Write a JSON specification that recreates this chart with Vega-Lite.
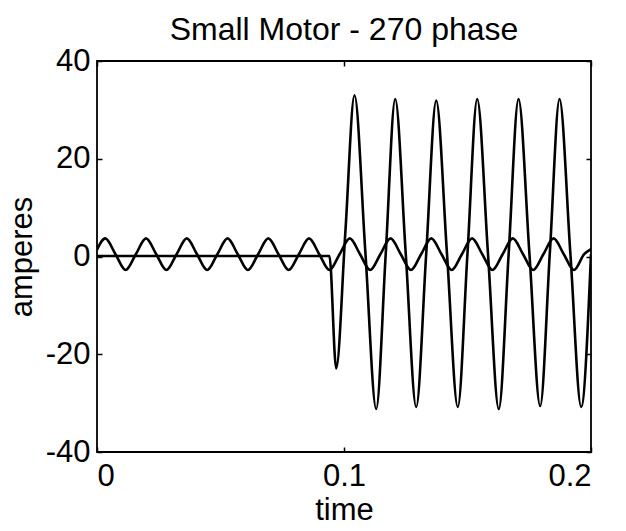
{
  "$schema": "https://vega.github.io/schema/vega-lite/v6.json",
  "width": 494,
  "height": 391,
  "autosize": {"type": "none"},
  "padding": {"left": 97, "top": 61, "right": 35, "bottom": 79},
  "background": "white",
  "config": {
    "font": "Liberation Sans",
    "view": {"stroke": "black", "strokeWidth": 1.8},
    "axis": {"grid": false, "domain": false, "tickColor": "black", "labelColor": "black", "titleColor": "black", "labelFont": "Liberation Sans", "titleFont": "Liberation Sans", "labelFontSize": 31, "titleFontSize": 31, "titleFontWeight": "normal", "tickWidth": 1.5}
  },
  "title": {"text": "Small Motor - 270 phase", "fontSize": 32, "fontWeight": "normal", "font": "Liberation Sans", "color": "black", "offset": -2},
  "data": {"values": [
    {"t": 0, "s": "f", "v": 1.41},
    {"t": 0.00335, "s": "f", "v": 3.7},
    {"t": 0.00748, "s": "f", "v": 0.47},
    {"t": 0.0116, "s": "f", "v": -2.76},
    {"t": 0.01573, "s": "f", "v": 0.47},
    {"t": 0.01985, "s": "f", "v": 3.7},
    {"t": 0.02398, "s": "f", "v": 0.47},
    {"t": 0.0281, "s": "f", "v": -2.76},
    {"t": 0.03223, "s": "f", "v": 0.47},
    {"t": 0.03635, "s": "f", "v": 3.7},
    {"t": 0.04048, "s": "f", "v": 0.47},
    {"t": 0.0446, "s": "f", "v": -2.76},
    {"t": 0.04873, "s": "f", "v": 0.47},
    {"t": 0.05285, "s": "f", "v": 3.7},
    {"t": 0.05698, "s": "f", "v": 0.47},
    {"t": 0.0611, "s": "f", "v": -2.76},
    {"t": 0.06523, "s": "f", "v": 0.47},
    {"t": 0.06935, "s": "f", "v": 3.7},
    {"t": 0.07348, "s": "f", "v": 0.47},
    {"t": 0.0776, "s": "f", "v": -2.76},
    {"t": 0.08173, "s": "f", "v": 0.47},
    {"t": 0.08585, "s": "f", "v": 3.7},
    {"t": 0.08998, "s": "f", "v": 0.47},
    {"t": 0.0941, "s": "f", "v": -2.76},
    {"t": 0.09823, "s": "f", "v": 0.47},
    {"t": 0.10235, "s": "f", "v": 3.7},
    {"t": 0.10648, "s": "f", "v": 0.47},
    {"t": 0.1106, "s": "f", "v": -2.76},
    {"t": 0.11473, "s": "f", "v": 0.47},
    {"t": 0.11885, "s": "f", "v": 3.7},
    {"t": 0.12298, "s": "f", "v": 0.47},
    {"t": 0.1271, "s": "f", "v": -2.76},
    {"t": 0.13123, "s": "f", "v": 0.47},
    {"t": 0.13535, "s": "f", "v": 3.7},
    {"t": 0.13948, "s": "f", "v": 0.47},
    {"t": 0.1436, "s": "f", "v": -2.76},
    {"t": 0.14773, "s": "f", "v": 0.47},
    {"t": 0.15185, "s": "f", "v": 3.7},
    {"t": 0.15598, "s": "f", "v": 0.47},
    {"t": 0.1601, "s": "f", "v": -2.76},
    {"t": 0.16423, "s": "f", "v": 0.47},
    {"t": 0.16835, "s": "f", "v": 3.7},
    {"t": 0.17248, "s": "f", "v": 0.47},
    {"t": 0.1766, "s": "f", "v": -2.76},
    {"t": 0.18073, "s": "f", "v": 0.47},
    {"t": 0.18485, "s": "f", "v": 3.7},
    {"t": 0.18898, "s": "f", "v": 0.47},
    {"t": 0.1931, "s": "f", "v": -2.76},
    {"t": 0.19723, "s": "f", "v": 0.47},
    {"t": 0.2, "s": "f", "v": 1.5},
    {"t": 0, "s": "m", "v": 0.1},
    {"t": 0.0941, "s": "m", "v": 0.1},
    {"t": 0.09684, "s": "m", "v": -22.9},
    {"t": 0.10055, "s": "m", "v": 5.0},
    {"t": 0.10425, "s": "m", "v": 33.0},
    {"t": 0.10865, "s": "m", "v": 0.9},
    {"t": 0.11304, "s": "m", "v": -31.2},
    {"t": 0.11689, "s": "m", "v": 0.5},
    {"t": 0.12073, "s": "m", "v": 32.2},
    {"t": 0.12498, "s": "m", "v": 0.7},
    {"t": 0.12923, "s": "m", "v": -30.8},
    {"t": 0.13328, "s": "m", "v": 0.55},
    {"t": 0.13733, "s": "m", "v": 31.9},
    {"t": 0.1417, "s": "m", "v": 0.55},
    {"t": 0.14607, "s": "m", "v": -30.8},
    {"t": 0.15, "s": "m", "v": 0.7},
    {"t": 0.15393, "s": "m", "v": 32.2},
    {"t": 0.1583, "s": "m", "v": 0.5},
    {"t": 0.16267, "s": "m", "v": -31.2},
    {"t": 0.16666, "s": "m", "v": 0.5},
    {"t": 0.17065, "s": "m", "v": 32.2},
    {"t": 0.17504, "s": "m", "v": 0.8},
    {"t": 0.17943, "s": "m", "v": -30.6},
    {"t": 0.18334, "s": "m", "v": 0.8},
    {"t": 0.18725, "s": "m", "v": 32.2},
    {"t": 0.19164, "s": "m", "v": 0.7},
    {"t": 0.19603, "s": "m", "v": -30.8},
    {"t": 0.2, "s": "m", "v": 0.5}
  ]},
  "layer": [
    {
      "mark": {"type": "line", "color": "black", "strokeWidth": 2.6, "interpolate": "monotone", "clip": true},
      "encoding": {
        "x": {"field": "t", "type": "quantitative", "scale": {"domain": [0, 0.2], "nice": false, "zero": false},
          "axis": {"orient": "bottom", "title": "time", "values": [0, 0.1, 0.2], "labelExpr": "'' + datum.value", "tickSize": -5, "labelPadding": 14, "titlePadding": 4}},
        "y": {"field": "v", "type": "quantitative", "scale": {"domain": [-40, 40], "nice": false, "zero": false},
          "axis": {"orient": "left", "title": "amperes", "values": [-40, -20, 0, 20, 40], "labelExpr": "'' + datum.value", "tickSize": -5, "labelPadding": 12, "titlePadding": 7}},
        "detail": {"field": "s"}
      }
    },
    {
      "mark": {"type": "point", "opacity": 0},
      "encoding": {
        "x": {"field": "t", "type": "quantitative", "axis": {"orient": "top", "title": null, "labels": false, "values": [0, 0.1, 0.2], "tickSize": -5}},
        "y": {"field": "v", "type": "quantitative", "axis": {"orient": "right", "title": null, "labels": false, "values": [-40, -20, 0, 20, 40], "tickSize": -5}}
      }
    }
  ],
  "resolve": {"axis": {"x": "independent", "y": "independent"}}
}
